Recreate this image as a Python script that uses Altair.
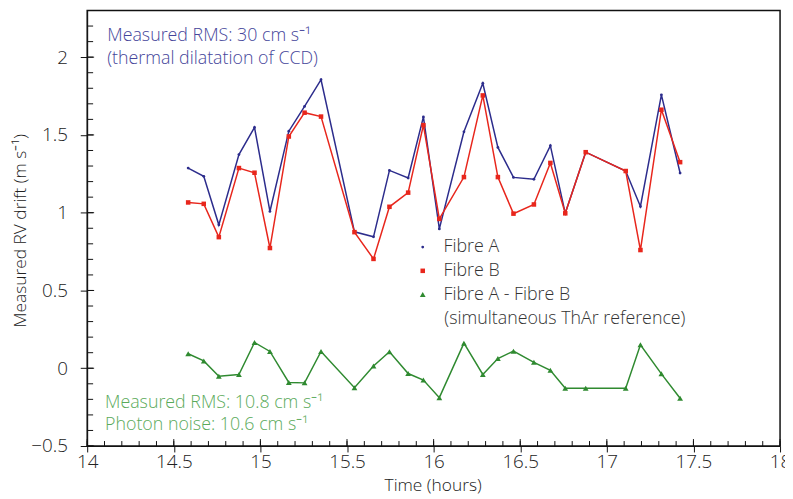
import altair as alt
import pandas as pd

# ---- data ----
time_h = [14.583, 14.673, 14.760, 14.876, 14.966, 15.055, 15.164, 15.255, 15.350,
          15.543, 15.653, 15.745, 15.853, 15.941, 16.033, 16.175, 16.284, 16.371,
          16.461, 16.579, 16.674, 16.760, 16.878, 17.109, 17.194, 17.315, 17.423]
fibre_a = [1.287, 1.234, 0.922, 1.374, 1.548, 1.008, 1.524, 1.683, 1.855,
           0.877, 0.845, 1.272, 1.223, 1.616, 0.896, 1.520, 1.832, 1.420,
           1.227, 1.215, 1.431, 0.996, 1.389, 1.268, 1.040, 1.758, 1.255]
fibre_b = [1.066, 1.057, 0.843, 1.287, 1.257, 0.773, 1.490, 1.643, 1.618,
           0.875, 0.703, 1.038, 1.129, 1.563, 0.960, 1.229, 1.754, 1.229,
           0.994, 1.053, 1.320, 0.996, 1.389, 1.268, 0.760, 1.662, 1.325]
fibre_diff = [0.093, 0.047, -0.051, -0.040, 0.166, 0.108, -0.091, -0.094, 0.108,
              -0.125, 0.015, 0.106, -0.034, -0.076, -0.189, 0.161, -0.040, 0.062,
              0.110, 0.038, -0.013, -0.129, -0.129, -0.129, 0.151, -0.036, -0.193]

series_names = ["Fibre A", "Fibre B", "Fibre A - Fibre B"]
series_colors = ["#2c2c8c", "#e8261c", "#2f8a30"]
series_shapes = ["circle", "square", "triangle-up"]
series_sizes = [8, 34, 70]

x_major = [14, 14.5, 15, 15.5, 16, 16.5, 17, 17.5, 18]
y_major = [-0.5, 0, 0.5, 1, 1.5, 2]
x_minor = [round(14 + 0.1 * i, 1) for i in range(41)]
y_minor = [round(-0.5 + 0.1 * i, 1) for i in range(29)]

blue_note_x = [14.116, 14.116]
blue_note_y = [2.134, 1.985]
blue_note_text = ["Measured RMS: 30 cm s⁻¹", "(thermal dilatation of CCD)"]
green_note_x = [14.103, 14.103]
green_note_y = [-0.223, -0.366]
green_note_text = ["Measured RMS: 10.8 cm s⁻¹", "Photon noise: 10.6 cm s⁻¹"]
legend_note_x = [16.062]
legend_note_y = [0.318]
legend_note_text = ["(simultaneous ThAr reference)"]

FONT = "Open Sans"
FW = 300
W, H = 700, 440

rows = []
for vals, name in zip([fibre_a, fibre_b, fibre_diff], series_names):
    for t, v in zip(time_h, vals):
        rows.append({"time": t, "drift": v, "series": name})
df = pd.DataFrame(rows)

xscale = alt.Scale(domain=[14, 18], nice=False, zero=False)
yscale = alt.Scale(domain=[-0.5, 2.3], nice=False, zero=False)

x_enc = alt.X("time:Q", scale=xscale,
              axis=alt.Axis(values=x_major, format="~g", title="Time (hours)",
                            grid=False, tickSize=6, labelPadding=1,
                            labelFontSize=19, labelColor="#222", labelFont=FONT,
                            labelFontWeight=FW,
                            titleFont=FONT, titleFontSize=17.5, titleFontWeight=FW,
                            titleColor="#222", titleX=349, titleY=40,
                            titleBaseline="middle", domainColor="#111",
                            tickColor="#111", labelFlush=False))
y_enc = alt.Y("drift:Q", scale=yscale,
              axis=alt.Axis(values=y_major, format="~g",
                            title="Measured RV drift (m s⁻¹)",
                            grid=False, tickSize=7, labelPadding=13,
                            labelFontSize=19, labelColor="#222", labelFont=FONT,
                            labelFontWeight=FW,
                            titleFont=FONT, titleFontSize=17.5, titleFontWeight=FW,
                            titleColor="#222", titleX=-67, titleY=222,
                            titleAngle=-90, titleAlign="center",
                            titleBaseline="middle", domainColor="#111",
                            tickColor="#111"))

color_scale = alt.Scale(domain=series_names, range=series_colors)

line_layers = []
for i, (name, col) in enumerate(zip(series_names, series_colors)):
    enc_x = x_enc if i == 0 else alt.X("time:Q")
    enc_y = y_enc if i == 0 else alt.Y("drift:Q")
    line_layers.append(
        alt.Chart(df).transform_filter(alt.datum.series == name)
        .mark_line(strokeWidth=1.5, color=col)
        .encode(x=enc_x, y=enc_y)
    )

legend = alt.Legend(
    title=None, orient="none", legendX=330, legendY=230,
    labelFont=FONT, labelFontSize=18, labelFontWeight=FW, labelColor="#333",
    labelOffset=12, labelLimit=400,
    rowPadding=6, symbolStrokeWidth=0,
)

points = alt.Chart(df).mark_point(filled=True, opacity=1).encode(
    x=alt.X("time:Q"), y=alt.Y("drift:Q"),
    color=alt.Color("series:N", scale=color_scale, legend=legend),
    shape=alt.Shape("series:N", scale=alt.Scale(domain=series_names, range=series_shapes), legend=legend),
    size=alt.Size("series:N", scale=alt.Scale(domain=series_names, range=series_sizes), legend=legend),
)

xt_major = pd.DataFrame({"time": x_major})
xt_minor = pd.DataFrame({"time": x_minor})
yt_major = pd.DataFrame({"drift": y_major})
yt_minor = pd.DataFrame({"drift": y_minor})

x_in_major = alt.Chart(xt_major).mark_rule(color="#111", strokeWidth=1).encode(
    x=alt.X("time:Q"), y=alt.value(H), y2=alt.value(H - 7))
x_in_minor = alt.Chart(xt_minor).mark_rule(color="#111", strokeWidth=1).encode(
    x=alt.X("time:Q"), y=alt.value(H), y2=alt.value(H - 5))
y_in_major = alt.Chart(yt_major).mark_rule(color="#111", strokeWidth=1).encode(
    y=alt.Y("drift:Q"), x=alt.value(0), x2=alt.value(7))
y_in_minor = alt.Chart(yt_minor).mark_rule(color="#111", strokeWidth=1).encode(
    y=alt.Y("drift:Q"), x=alt.value(0), x2=alt.value(6))


def note(xs, ys, texts, color):
    d = pd.DataFrame({"time": xs, "drift": ys, "text": texts})
    return alt.Chart(d).mark_text(align="left", baseline="middle", font=FONT,
                                  fontSize=18, fontWeight=FW, color=color).encode(
        x=alt.X("time:Q"), y=alt.Y("drift:Q"), text="text:N")


blue_ann = note(blue_note_x, blue_note_y, blue_note_text, "#45459a")
green_ann = note(green_note_x, green_note_y, green_note_text, "#5aaa5a")
legend_ann = note(legend_note_x, legend_note_y, legend_note_text, "#333333")

chart = alt.layer(*line_layers, x_in_minor, x_in_major, y_in_minor, y_in_major,
                  points, blue_ann, green_ann, legend_ann).properties(
    width=W, height=H,
    padding={"left": 80, "top": 0, "right": 5, "bottom": 51},
    autosize=alt.AutoSizeParams(type="none"),
).configure_view(stroke="#111", strokeWidth=1.5)

chart.save("out.html", embed_options={"renderer": "svg", "actions": False})
